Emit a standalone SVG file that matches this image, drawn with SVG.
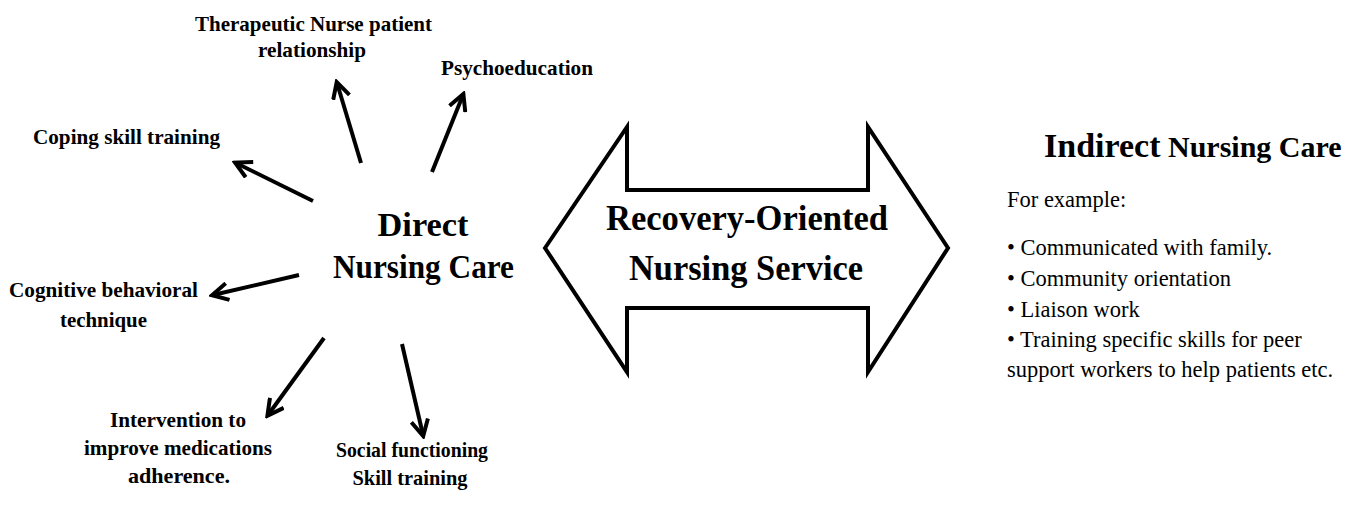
<svg xmlns="http://www.w3.org/2000/svg" width="1364" height="509" viewBox="0 0 1364 509" font-family="'Liberation Serif', 'Times New Roman', Times, serif">
  <style>
    text { font-family: 'Liberation Serif', 'Times New Roman', Times, serif; fill: #000; }
    .lbl { font-size: 22px; font-weight: bold; text-anchor: middle; }
    .hub { font-size: 34px; font-weight: bold; text-anchor: middle; }
    .band { font-size: 35px; font-weight: bold; text-anchor: middle; }
    .body { font-size: 22.5px; }
    .conn { stroke: #000; stroke-width: 4; fill: none; marker-end: url(#open-head); }
  </style>
  <defs>
    <!-- open chevron head used by every spoke -->
    <marker id="open-head" markerUnits="userSpaceOnUse" viewBox="0 0 20 20" markerWidth="20" markerHeight="20" refX="16" refY="10" orient="auto">
      <path d="M1,1.5 L17,10 L1,18.5" fill="none" stroke="#000" stroke-width="4" stroke-linejoin="miter"/>
    </marker>
  </defs>
  <rect width="1364" height="509" fill="#fff"/>

  <!-- spokes from the central node -->
  <g id="connectors">
    <line class="conn" x1="361" y1="163" x2="337" y2="83"/>
    <line class="conn" x1="432" y1="172" x2="463" y2="95"/>
    <line class="conn" x1="313" y1="201" x2="236" y2="163"/>
    <line class="conn" x1="299" y1="275" x2="213" y2="295"/>
    <line class="conn" x1="324" y1="338" x2="268" y2="415"/>
    <line class="conn" x1="402" y1="344" x2="423" y2="435"/>
  </g>

  <g id="direct-care">
    <text class="hub" x="423" y="236" textLength="91" lengthAdjust="spacingAndGlyphs">Direct</text>
    <text class="hub" x="423.5" y="278" textLength="181" lengthAdjust="spacingAndGlyphs">Nursing Care</text>
  </g>

  <g id="therapeutic">
    <text class="lbl" x="313.5" y="31" textLength="237" lengthAdjust="spacingAndGlyphs">Therapeutic Nurse patient</text>
    <text class="lbl" x="312" y="57" textLength="108" lengthAdjust="spacingAndGlyphs">relationship</text>
  </g>

  <g id="psychoeducation">
    <text class="lbl" x="517" y="75" textLength="152" lengthAdjust="spacingAndGlyphs">Psychoeducation</text>
  </g>

  <g id="coping">
    <text class="lbl" x="126.5" y="144" textLength="187" lengthAdjust="spacingAndGlyphs">Coping skill training</text>
  </g>

  <g id="cognitive">
    <text class="lbl" x="103.5" y="297" textLength="189" lengthAdjust="spacingAndGlyphs">Cognitive behavioral</text>
    <text class="lbl" x="103.5" y="327" textLength="87" lengthAdjust="spacingAndGlyphs">technique</text>
  </g>

  <g id="adherence">
    <text class="lbl" x="178" y="427" textLength="136" lengthAdjust="spacingAndGlyphs">Intervention to</text>
    <text class="lbl" x="178" y="455" textLength="188" lengthAdjust="spacingAndGlyphs">improve medications</text>
    <text class="lbl" x="179" y="483" textLength="102" lengthAdjust="spacingAndGlyphs">adherence.</text>
  </g>

  <g id="social">
    <text class="lbl" x="412" y="457" textLength="152" lengthAdjust="spacingAndGlyphs">Social functioning</text>
    <text class="lbl" x="410" y="485" textLength="115" lengthAdjust="spacingAndGlyphs">Skill training</text>
  </g>

  <!-- double-headed block arrow -->
  <g id="recovery-service">
    <polygon points="545,248 627,127 627,190 868,190 868,127 948,248 868,372 868,308 627,308 627,372" fill="#fff" stroke="#000" stroke-width="4" stroke-linejoin="miter"/>
    <text class="band" x="747" y="230" textLength="282" lengthAdjust="spacingAndGlyphs">Recovery-Oriented</text>
    <text class="band" x="746" y="280" textLength="234" lengthAdjust="spacingAndGlyphs">Nursing Service</text>
  </g>

  <g id="indirect-care">
    <text x="1044" y="157" font-weight="bold"><tspan font-size="34">Indirect</tspan><tspan font-size="30"> Nursing Care</tspan></text>
    <text class="body" x="1007" y="207">For example:</text>
    <text class="body" x="1007" y="255">• Communicated with family.</text>
    <text class="body" x="1007" y="286">• Community orientation</text>
    <text class="body" x="1007" y="317">• Liaison work</text>
    <text class="body" x="1007" y="347">• Training specific skills for peer</text>
    <text class="body" x="1007" y="377">support workers to help patients etc.</text>
  </g>
</svg>
